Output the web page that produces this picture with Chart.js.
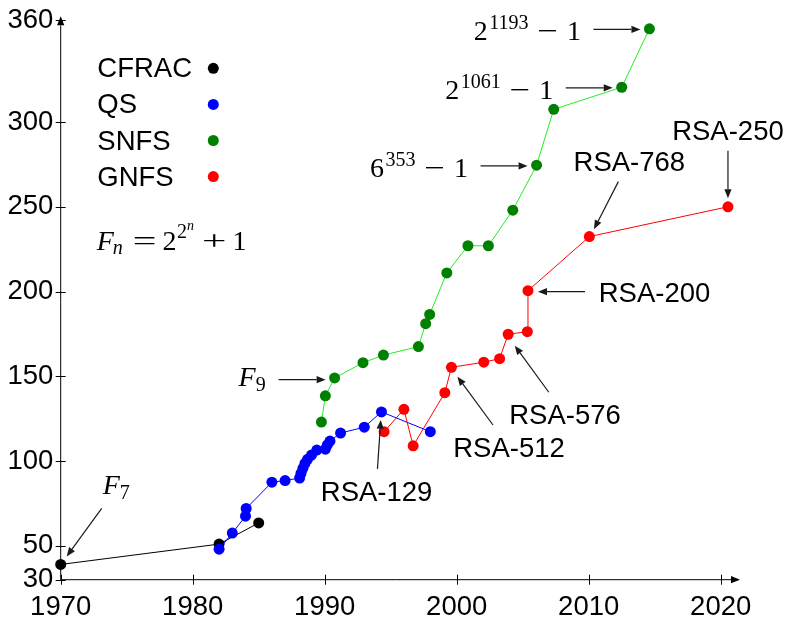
<!DOCTYPE html>
<html>
<head>
<meta charset="utf-8">
<script src="https://cdn.jsdelivr.net/npm/chart.js@4.4.1/dist/chart.umd.min.js"></script>
<style>
  html, body { margin: 0; padding: 0; background: #fff; }
</style>
</head>
<body>
<canvas id="chart" width="789" height="621"></canvas>
<script>
// record sizes (decimal digits) by year, per algorithm
const cfracYears = [1970, 1982, 1985];
const cfracDigits = [39, 51, 63.5];

const qsYears = [1982, 1983, 1984, 1984.05, 1986, 1987, 1988.1, 1988.2, 1988.35, 1988.5, 1988.7, 1989, 1989.4, 1990.05, 1990.2, 1990.4, 1991.2, 1993, 1994.3, 1998];
const qsDigits = [48, 57.5, 67.5, 72, 87.5, 88.5, 90, 92.7, 95.7, 98.6, 101, 103.5, 106.5, 107, 109.5, 111.8, 116.5, 120, 129, 117.3];

const snfsYears = [1989.75, 1990.05, 1990.75, 1992.9, 1994.45, 1997.1, 1997.65, 1997.95, 1999.25, 2000.85, 2002.4, 2004.25, 2006.05, 2007.35, 2012.5, 2014.6];
const snfsDigits = [123, 138.5, 149, 158, 162.5, 167.5, 181, 186.5, 211, 227, 227, 248, 274.5, 307.5, 320.5, 355];

const gnfsYears = [1994.5, 1996, 1996.7, 1999.1, 1999.6, 2002.05, 2003.25, 2003.9, 2005.35, 2005.4, 2010.05, 2020.55];
const gnfsDigits = [117.3, 130.5, 109, 140.3, 155.3, 158.3, 160.4, 174.8, 176.3, 200.5, 232.4, 250];

const xTickValues = [1970, 1980, 1990, 2000, 2010, 2020];
const yTickValues = [30, 50, 100, 150, 200, 250, 300, 360];

const SANS = '"Liberation Sans", Arial, sans-serif';
const SERIF = '"Liberation Serif", "DejaVu Serif", serif';
const labelFont = `27.5px ${SANS}`;

// where the plot area should sit
const wantArea = { left: 60.7, top: 20.3, right: 731, bottom: 579.7 };
let yAxisWidth = 60.7;
let xAxisHeight = 621 - 579.7;

function toPoints(xs, ys) {
  return xs.map((x, i) => ({ x, y: ys[i] }));
}

function series(label, xs, ys, dotColor, lineColor, order) {
  return {
    label,
    data: toPoints(xs, ys),
    borderColor: lineColor,
    borderWidth: 1,
    pointBackgroundColor: dotColor,
    pointBorderWidth: 0,
    pointRadius: 5.5,
    tension: 0,
    clip: false,
    order,
  };
}

const datasets = [
  series('CFRAC', cfracYears, cfracDigits, '#000000', '#000000', 4),
  series('QS', qsYears, qsDigits, '#0000ff', '#0000ff', 3),
  series('SNFS', snfsYears, snfsDigits, '#008000', '#22ee22', 2),
  series('GNFS', gnfsYears, gnfsDigits, '#ff0000', '#ff0000', 1),
];

// text pieces for the math-style labels
function mathPow(base, exp) {
  return [
    { text: base, font: `28px ${SERIF}` },
    { text: exp, font: `20px ${SERIF}`, gap: 1.5, rise: 11 },
    { text: '\u2212', font: `28px ${SERIF}`, gap: 9, sx: 1.3 },
    { text: '1', font: `28px ${SERIF}`, gap: 9 },
  ];
}
function fermat(n) {
  return [
    { text: 'F', font: `italic 28px ${SERIF}` },
    { text: n, font: `20px ${SERIF}`, gap: 0, rise: -5 },
  ];
}

// annotations attached to data points (offsets in px from the point)
const notes = [
  { set: 0, idx: 0, math: fermat('7'), tx: 42, ty: -70, align: 'left', tail: [41, -56], tip: [6, -8] },
  { set: 2, idx: 2, math: fermat('9'), tx: -96, ty: 8.5, align: 'left', tail: [-56, 1.7], tip: [-9, 1.7] },
  { set: 2, idx: 12, math: mathPow('6', '353'), tx: -68.5, ty: 11.7, align: 'right', tail: [-56, 0.7], tip: [-9, 0.7] },
  { set: 2, idx: 14, math: mathPow('2', '1061'), tx: -68.5, ty: 11.7, align: 'right', tail: [-56, 0.6], tip: [-9, 0.6] },
  { set: 2, idx: 15, math: mathPow('2', '1193'), tx: -68.5, ty: 11.7, align: 'right', tail: [-56, 0.6], tip: [-9, 0.6] },
  { set: 3, idx: 11, text: 'RSA-250', tx: 0, ty: -66.7, align: 'center', tail: [0, -56], tip: [0, -8.5] },
  { set: 3, idx: 10, text: 'RSA-768', tx: 40, ty: -66, align: 'center', tail: [29, -55], tip: [4.6, -7.4] },
  { set: 3, idx: 9, text: 'RSA-200', tx: 126.5, ty: 11, align: 'center', tail: [57, 1], tip: [10, 1] },
  { set: 3, idx: 7, text: 'RSA-576', tx: 56.8, ty: 89.7, align: 'center', tail: [40.6, 58], tip: [6.6, 11.4] },
  { set: 3, idx: 4, text: 'RSA-512', tx: 57.6, ty: 89.4, align: 'center', tail: [41.6, 57.7], tip: [6, 9.4] },
  { set: 1, idx: 18, text: 'RSA-129', tx: -4.9, ty: 89.4, align: 'center', tail: [-4, 57], tip: [-0.7, 8] },
];

function drawPieces(ctx, pieces, x, y, align) {
  const widths = pieces.map((p) => {
    ctx.font = p.font;
    return ctx.measureText(p.text).width * (p.sx || 1);
  });
  const total = pieces.reduce((s, p, i) => s + (p.gap || 0) + widths[i], 0);
  let cx = align === 'right' ? x - total : x;
  ctx.textAlign = 'left';
  ctx.textBaseline = 'alphabetic';
  pieces.forEach((p, i) => {
    cx += p.gap || 0;
    ctx.save();
    ctx.font = p.font;
    ctx.translate(cx, y - (p.rise || 0));
    ctx.scale(p.sx || 1, 1);
    ctx.fillText(p.text, 0, 0);
    ctx.restore();
    cx += widths[i];
  });
}

function drawArrow(ctx, x1, y1, x2, y2) {
  const ang = Math.atan2(y2 - y1, x2 - x1);
  const head = 9;
  const half = 3.6;
  const bx = x2 - head * Math.cos(ang);
  const by = y2 - head * Math.sin(ang);
  ctx.beginPath();
  ctx.moveTo(x1, y1);
  ctx.lineTo(bx, by);
  ctx.stroke();
  ctx.beginPath();
  ctx.moveTo(x2, y2);
  ctx.lineTo(bx + half * Math.sin(ang), by - half * Math.cos(ang));
  ctx.lineTo(bx - half * Math.sin(ang), by + half * Math.cos(ang));
  ctx.closePath();
  ctx.fill();
}

const decor = {
  id: 'decor',
  beforeDatasetsDraw(chart) {
    const { ctx, chartArea: a, scales } = chart;
    ctx.save();
    ctx.strokeStyle = '#000';
    ctx.fillStyle = '#000';
    ctx.lineWidth = 1;
    // axes with arrow heads
    drawArrow(ctx, a.left, a.bottom, a.right + 9, a.bottom);
    drawArrow(ctx, a.left, a.bottom, a.left, a.top - 4);
    ctx.beginPath();
    xTickValues.forEach((v) => {
      const x = Math.round(scales.x.getPixelForValue(v)) + 0.5;
      ctx.moveTo(x, a.bottom - 5);
      ctx.lineTo(x, a.bottom + 5);
    });
    yTickValues.forEach((v) => {
      const y = Math.round(scales.y.getPixelForValue(v)) + 0.5;
      ctx.moveTo(a.left - 5, y);
      ctx.lineTo(a.left + 5, y);
    });
    ctx.stroke();
    ctx.restore();
  },
  afterDatasetsDraw(chart) {
    const { ctx } = chart;
    ctx.save();
    ctx.fillStyle = '#000';

    // legend: name then dot
    chart.data.datasets.forEach((ds, i) => {
      const cy = 68.3 + i * 36.1;
      ctx.font = labelFont;
      ctx.textAlign = 'left';
      ctx.textBaseline = 'alphabetic';
      ctx.fillStyle = '#000';
      ctx.fillText(ds.label, 97.3, cy + 9);
      ctx.fillStyle = ds.pointBackgroundColor;
      ctx.beginPath();
      ctx.arc(213.3, cy, 5.5, 0, Math.PI * 2);
      ctx.fill();
    });

    ctx.fillStyle = '#000';
    drawPieces(ctx, [
      { text: 'F', font: `italic 28px ${SERIF}` },
      { text: 'n', font: `italic 20px ${SERIF}`, gap: -1, rise: -4 },
      { text: '=', font: `28px ${SERIF}`, gap: 10, sx: 1.5 },
      { text: '2', font: `28px ${SERIF}`, gap: 6 },
      { text: '2', font: `20px ${SERIF}`, gap: 0.5, rise: 12 },
      { text: 'n', font: `italic 14px ${SERIF}`, gap: 0, rise: 20 },
      { text: '+', font: `28px ${SERIF}`, gap: 8, sx: 1.55 },
      { text: '1', font: `28px ${SERIF}`, gap: 6 },
    ], 96.7, 250, 'left');

    // annotations with arrows
    ctx.strokeStyle = '#1a1a1a';
    ctx.lineWidth = 1.2;
    notes.forEach((n) => {
      const el = chart.getDatasetMeta(n.set).data[n.idx];
      const px = el.x;
      const py = el.y;
      ctx.fillStyle = '#000';
      if (n.math) {
        drawPieces(ctx, n.math, px + n.tx, py + n.ty, n.align);
      } else {
        ctx.font = labelFont;
        ctx.textAlign = n.align;
        ctx.textBaseline = 'alphabetic';
        ctx.fillText(n.text, px + n.tx, py + n.ty);
      }
      ctx.fillStyle = '#1a1a1a';
      drawArrow(ctx, px + n.tail[0], py + n.tail[1], px + n.tip[0], py + n.tip[1]);
    });
    ctx.restore();
  },
};

const tickFont = { family: SANS, size: 27.5 };

const chart = new Chart(document.getElementById('chart'), {
  type: 'line',
  data: { datasets },
  options: {
    responsive: false,
    animation: false,
    layout: { padding: { top: 20.3, right: 58, left: 0, bottom: 0 } },
    plugins: { legend: { display: false }, tooltip: { enabled: false } },
    scales: {
      x: {
        type: 'linear',
        min: 1970,
        max: 2020.78,
        afterFit: (s) => {
          s.height = xAxisHeight;
          s.paddingLeft = 0;
          s.paddingRight = 0;
        },
        afterBuildTicks: (s) => { s.ticks = xTickValues.map((v) => ({ value: v })); },
        grid: { display: false, drawTicks: false },
        border: { display: false },
        ticks: { padding: 11, font: tickFont, color: '#000', maxRotation: 0, autoSkip: false, callback: (v) => String(v) },
      },
      y: {
        type: 'linear',
        min: 30,
        max: 360,
        afterFit: (s) => {
          s.width = yAxisWidth;
          s.paddingTop = 0;
          s.paddingBottom = 0;
        },
        afterBuildTicks: (s) => { s.ticks = yTickValues.map((v) => ({ value: v })); },
        grid: { display: false, drawTicks: false },
        border: { display: false },
        ticks: { padding: 7.4, font: tickFont, color: '#000', autoSkip: false, callback: (v) => String(v) },
      },
    },
  },
  plugins: [decor],
});

// nudge the layout so the plot area lands where the reference has it
for (let pass = 0; pass < 2; pass++) {
  const a = chart.chartArea;
  const pad = chart.options.layout.padding;
  pad.top += wantArea.top - a.top;
  pad.right += a.right - wantArea.right;
  yAxisWidth += wantArea.left - a.left;
  xAxisHeight += a.bottom - wantArea.bottom;
  chart.update();
}
</script>
</body>
</html>
